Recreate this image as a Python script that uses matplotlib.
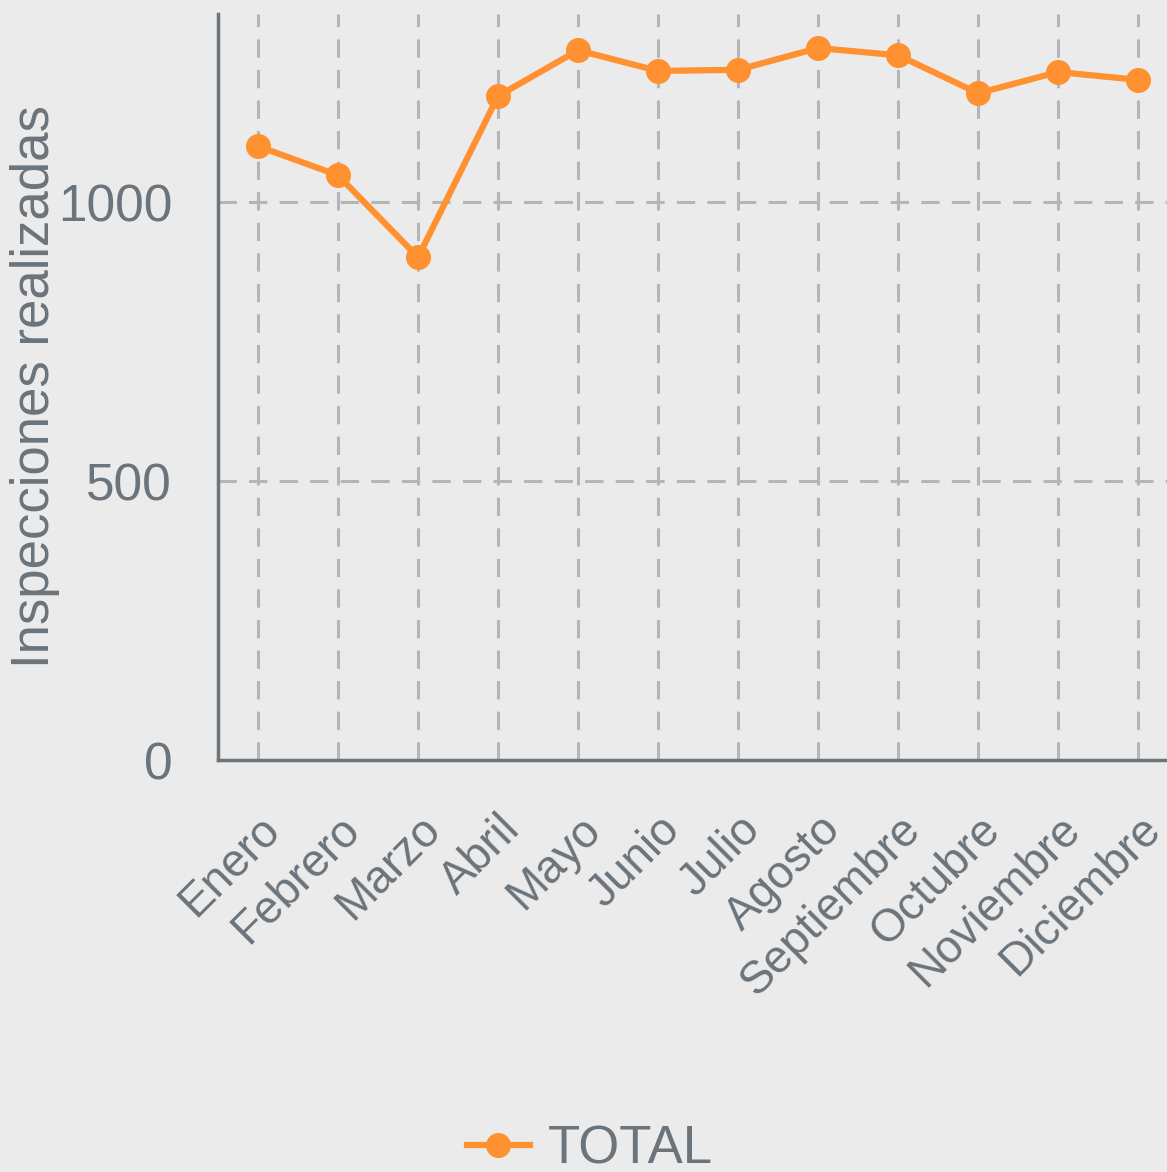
import matplotlib.pyplot as plt

months = ['Enero', 'Febrero', 'Marzo', 'Abril', 'Mayo', 'Junio', 'Julio',
          'Agosto', 'Septiembre', 'Octubre', 'Noviembre', 'Diciembre']
total = [1100, 1048, 901, 1190, 1272, 1235, 1237, 1276, 1263, 1195, 1233, 1219]

bg = '#ebebeb'
txt = '#6b737b'
orange = '#ff9130'
gridc = '#b3b6b9'

plt.rcParams['font.family'] = ['Liberation Sans']

fig = plt.figure(figsize=(11.67, 11.72), dpi=100, facecolor=bg)
ax = fig.add_axes([218 / 1167, 1 - 760 / 1172, 1 - 218 / 1167, (760 - 14) / 1172])
ax.set_facecolor(bg)

x = range(len(months))
ax.plot(x, total, color=orange, lw=4.5, marker='o', ms=17, label='TOTAL', zorder=3)

ax.set_xlim(-0.5, 11.36)
ax.set_ylim(0, 1337)
ax.set_yticks([0, 500, 1000])
ax.set_xticks(list(x))
ax.set_xticklabels(months, rotation=45, ha='right', rotation_mode='anchor')
ax.tick_params(axis='both', length=0, colors=txt)
ax.tick_params(axis='y', pad=33, labelsize=37)
ax.tick_params(axis='x', pad=34, labelsize=33)

ax.grid(True, color=gridc, lw=2.2, linestyle=(0, (6, 4)))
ax.set_axisbelow(True)
for s in ['top', 'right']:
    ax.spines[s].set_visible(False)
for s in ['left', 'bottom']:
    ax.spines[s].set_color(txt)
    ax.spines[s].set_linewidth(2.5)

ax.set_ylabel('Inspecciones realizadas', color=txt, fontsize=38)
ax.yaxis.set_label_coords((60 - 218) / 949, 0.5)

fig.legend(loc='center', bbox_to_anchor=(590 / 1167, 1 - 1149 / 1172), frameon=False,
           fontsize=38, labelcolor=txt, handlelength=1.2, handletextpad=0.35)

fig.savefig('out.png', dpi=100, facecolor=bg)
